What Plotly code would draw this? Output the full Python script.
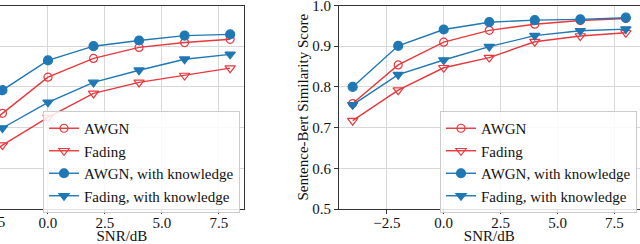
import plotly.graph_objects as go

snr = [-4, -2, 0, 2, 4, 6, 8]

# Left panel (y-axis labels not visible in the reference; values estimated on a 0.5-1.0 scale)
left_awgn = [0.64, 0.735, 0.824, 0.870, 0.897, 0.909, 0.917]
left_fading = [0.58, 0.657, 0.725, 0.784, 0.811, 0.828, 0.846]
left_awgn_k = [0.70, 0.792, 0.865, 0.900, 0.914, 0.926, 0.929]
left_fading_k = [0.62, 0.699, 0.762, 0.811, 0.841, 0.868, 0.880]

# Right panel: Sentence-Bert similarity score
right_awgn = [0.759, 0.854, 0.910, 0.939, 0.954, 0.963, 0.968]
right_fading = [0.717, 0.792, 0.847, 0.872, 0.911, 0.925, 0.933]
right_awgn_k = [0.800, 0.901, 0.941, 0.959, 0.964, 0.966, 0.970]
right_fading_k = [0.756, 0.830, 0.866, 0.899, 0.926, 0.938, 0.942]

series_names = ["AWGN", "Fading", "AWGN, with knowledge", "Fading, with knowledge"]
x_tickvals = [-2.5, 0, 2.5, 5, 7.5]
x_ticktext = ["\u22122.5", "0.0", "2.5", "5.0", "7.5"]
y_tickvals = [0.5, 0.6, 0.7, 0.8, 0.9, 1.0]
y_ticktext = ["0.5", "0.6", "0.7", "0.8", "0.9", "1.0"]

RED = "#e8383d"
BLUE = "#1f77b4"
FONT = "Liberation Serif"

styles = [
    dict(color=RED, symbol="circle-open", size=8),
    dict(color=RED, symbol="triangle-down-open", size=9),
    dict(color=BLUE, symbol="circle", size=9),
    dict(color=BLUE, symbol="triangle-down", size=9),
]

fig = go.Figure()

left_sets = [left_awgn, left_fading, left_awgn_k, left_fading_k]
right_sets = [right_awgn, right_fading, right_awgn_k, right_fading_k]

for name, ys, st in zip(series_names, left_sets, styles):
    fig.add_trace(go.Scatter(
        x=snr, y=ys, name=name, mode="lines+markers", xaxis="x", yaxis="y",
        line=dict(color=st["color"], width=1.4),
        marker=dict(symbol=st["symbol"], size=st["size"], color=st["color"],
                    line=dict(color=st["color"], width=1.2)),
        legend="legend",
    ))

for name, ys, st in zip(series_names, right_sets, styles):
    fig.add_trace(go.Scatter(
        x=snr, y=ys, name=name, mode="lines+markers", xaxis="x2", yaxis="y2",
        line=dict(color=st["color"], width=1.4),
        marker=dict(symbol=st["symbol"], size=st["size"], color=st["color"],
                    line=dict(color=st["color"], width=1.2)),
        legend="legend2",
    ))

W, H = 640, 244
ydom = [(H - 209) / H, (H - 5.5) / H]
GRID = "#d8d8d8"
AXC = "#333333"

common_x = dict(
    tickvals=x_tickvals, ticktext=x_ticktext, ticks="outside", ticklen=4,
    tickcolor=AXC, showline=True, linecolor=AXC, linewidth=1, mirror=True,
    showgrid=True, gridcolor=GRID, gridwidth=1, zeroline=False,
    tickfont=dict(family=FONT, size=15, color="#111"), automargin=False,
    ticklabeloverflow="allow", ticklabelstandoff=-4,
    title=dict(text="SNR/dB", font=dict(family=FONT, size=15, color="#111"), standoff=3),
)

legend_common = dict(
    xanchor="right", y=(H - 213) / H, yanchor="bottom",
    bgcolor="rgba(255,255,255,0.85)", bordercolor="#cccccc", borderwidth=1,
    font=dict(family=FONT, size=15, color="#111"),
)

fig.update_layout(
    width=W, height=H,
    margin=dict(l=0, r=0, t=0, b=0),
    paper_bgcolor="white", plot_bgcolor="white",
    showlegend=True,
    xaxis=dict(domain=[0, 243.8 / W], range=[-2.108, 8.6], **common_x),
    yaxis=dict(domain=ydom, range=[0.5, 1.0], tickvals=y_tickvals,
               showticklabels=False, ticks="", side="right",
               showline=True, linecolor=AXC, linewidth=1,
               showgrid=True, gridcolor=GRID, zeroline=False, automargin=False),
    xaxis2=dict(domain=[339 / W, 639.5 / W], range=[-4.6, 8.6], anchor="y2", **common_x),
    yaxis2=dict(domain=ydom, range=[0.5, 1.0], anchor="x2",
                tickvals=y_tickvals, ticktext=y_ticktext, ticks="outside", ticklen=4,
                tickcolor=AXC, showline=True, linecolor=AXC, linewidth=1, mirror=True,
                showgrid=True, gridcolor=GRID, zeroline=False, automargin=False,
                ticklabeloverflow="allow",
                tickfont=dict(family=FONT, size=15, color="#111"),
                title=dict(text="Sentence-Bert Similarity Score",
                           font=dict(family=FONT, size=15, color="#111"), standoff=0)),
    legend=dict(x=240 / W, **legend_common),
    legend2=dict(x=637 / W, **legend_common),
    annotations=[dict(text="\u22122.5", xref="paper", yref="paper",
                      x=-9 / W, y=(H - 222) / H, xanchor="center", yanchor="middle",
                      showarrow=False, font=dict(family=FONT, size=15, color="#111"))],
)

fig.write_html(
    "out.html",
    config={"displayModeBar": False},
    post_script="document.body.style.margin='0';document.body.style.overflow='hidden';",
)
